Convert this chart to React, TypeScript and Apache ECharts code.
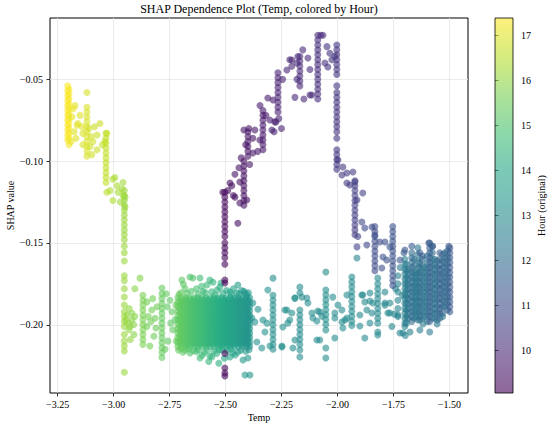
import React, { useEffect, useRef } from "react";
import * as echarts from "echarts";

const TITLE = "SHAP Dependence Plot (Temp, colored by Hour)";
const X_NAME = "Temp";
const Y_NAME = "SHAP value";
const CBAR_NAME = "Hour (original)";
const SERIF = "Liberation Serif";

const X_TICKS = [-3.25, -3.0, -2.75, -2.5, -2.25, -2.0, -1.75, -1.5];
const Y_TICKS = [-0.2, -0.15, -0.1, -0.05];
const HOUR_TICKS = [10, 11, 12, 13, 14, 15, 16, 17];
const X_RANGE = [-3.284, -1.417];
const Y_RANGE = [-0.2417, -0.0125];
const HOUR_RANGE = [9.05, 17.38];

const VIRIDIS = ["#440154", "#482475", "#414487", "#355f8d", "#2a788e", "#21918c", "#22a884", "#44bf70", "#7ad151", "#bddf26", "#fde725"];

// strips: [temp, hour, ...shap values]
const yellowStrips: number[][] = [
  [-3.205, 17.35, -0.054, -0.057, -0.06, -0.063, -0.066, -0.069, -0.072, -0.075, -0.078, -0.081, -0.084, -0.087],
  [-3.199, 17.3, -0.056, -0.059, -0.062, -0.065, -0.068, -0.071, -0.074, -0.077, -0.08, -0.083, -0.086, -0.09],
  [-3.119, 16.9, -0.058, -0.067, -0.07, -0.073, -0.076, -0.079, -0.082, -0.085, -0.088, -0.091, -0.094, -0.097],
  [-3.034, 16.6, -0.083, -0.086, -0.089, -0.092, -0.095, -0.098, -0.101, -0.104, -0.107, -0.11, -0.113],
  [-2.952, 16.1, -0.118, -0.121, -0.124, -0.127, -0.13, -0.133, -0.136, -0.139, -0.142, -0.145, -0.148, -0.152, -0.156, -0.161, -0.17, -0.173, -0.178, -0.183, -0.188, -0.192, -0.195, -0.198, -0.201, -0.206, -0.21, -0.213, -0.216, -0.229],
];

// points: [temp, shap, hour]
const yellowPoints: number[][] = [
  [-3.172, -0.066, 17.0], [-3.15, -0.072, 17.0], [-3.163, -0.078, 17.0], [-3.141, -0.079, 17.0], [-3.137, -0.083, 16.9],
  [-3.168, -0.086, 17.0], [-3.186, -0.073, 17.1], [-3.159, -0.077, 17.0], [-3.18, -0.068, 17.1], [-3.176, -0.082, 17.0],
  [-3.19, -0.088, 17.1], [-3.061, -0.077, 16.7], [-3.03, -0.083, 16.6], [-3.074, -0.084, 16.7], [-3.039, -0.088, 16.6],
  [-3.092, -0.088, 16.8], [-3.137, -0.09, 16.9], [-3.105, -0.091, 16.8], [-3.074, -0.093, 16.7], [-3.097, -0.096, 16.8],
  [-3.11, -0.08, 16.8], [-3.085, -0.079, 16.7], [-3.05, -0.09, 16.6], [-3.1, -0.085, 16.8],
  [-3.003, -0.111, 16.4], [-2.985, -0.115, 16.3], [-2.962, -0.117, 16.2], [-3.016, -0.118, 16.4], [-2.958, -0.121, 16.2],
  [-2.994, -0.11, 16.3], [-2.958, -0.113, 16.2], [-2.98, -0.119, 16.3], [-2.949, -0.122, 16.1], [-3.03, -0.119, 16.5],
  [-3.003, -0.124, 16.4], [-2.949, -0.128, 16.1], [-2.97, -0.125, 16.2],
];

const lowerLeftStrips: number[][] = [
  [-2.869, 15.7, -0.182, -0.185, -0.188, -0.191, -0.194, -0.197, -0.2, -0.203, -0.206, -0.209, -0.212],
  [-2.784, 15.4, -0.1775, -0.181, -0.184, -0.187, -0.19, -0.193, -0.196, -0.199, -0.202, -0.205, -0.208, -0.211, -0.214, -0.217, -0.22],
];

const lowerLeftPoints: number[][] = [
  [-2.94, -0.194, 16.0], [-2.918, -0.197, 15.9], [-2.927, -0.201, 16.0], [-2.918, -0.193, 15.9], [-2.945, -0.197, 16.0],
  [-2.93, -0.19, 16.0], [-2.935, -0.199, 16.0], [-2.905, -0.195, 15.9], [-2.91, -0.2, 15.9], [-2.882, -0.1715, 15.8],
  [-2.905, -0.178, 15.9], [-2.931, -0.203, 16.0], [-2.909, -0.206, 15.9], [-2.925, -0.209, 16.0],
  [-2.829, -0.191, 15.6], [-2.815, -0.196, 15.5], [-2.851, -0.201, 15.6], [-2.82, -0.207, 15.5], [-2.838, -0.213, 15.6],
  [-2.811, -0.202, 15.5], [-2.806, -0.189, 15.5], [-2.851, -0.186, 15.6], [-2.845, -0.195, 15.6], [-2.833, -0.198, 15.6],
  [-2.825, -0.184, 15.6], [-2.748, -0.185, 15.3], [-2.739, -0.192, 15.3], [-2.757, -0.21, 15.3], [-2.735, -0.203, 15.3],
  [-2.726, -0.197, 15.2], [-2.745, -0.199, 15.3], [-2.76, -0.189, 15.3], [-2.77, -0.215, 15.4], [-2.765, -0.181, 15.4],
];

// dense blob: two row sets of shap values, and columns [temp, hour, rowSet]
const blobRows: number[][] = [
  [-0.1835, -0.1862, -0.1889, -0.1916, -0.1943, -0.197, -0.1997, -0.2024, -0.2051, -0.2078, -0.2105, -0.2132],
  [-0.1848, -0.1875, -0.1902, -0.1929, -0.1956, -0.1983, -0.201, -0.2037, -0.2064, -0.2091, -0.2118],
];
const blobColumns: number[][] = [
  [-2.713, 15.4, 0], [-2.704, 15.35, 1], [-2.695, 15.3, 0], [-2.686, 15.25, 1], [-2.677, 15.2, 0],
  [-2.668, 15.1, 1], [-2.659, 15.05, 0], [-2.65, 15.0, 1], [-2.641, 14.95, 0], [-2.632, 14.9, 1],
  [-2.623, 14.8, 0], [-2.614, 14.75, 1], [-2.605, 14.7, 0], [-2.596, 14.65, 1], [-2.587, 14.6, 0],
  [-2.578, 14.5, 1], [-2.569, 14.45, 0], [-2.56, 14.4, 1], [-2.551, 14.35, 0], [-2.542, 14.3, 1],
  [-2.533, 14.2, 0], [-2.524, 14.15, 1], [-2.515, 14.1, 0], [-2.506, 14.05, 1], [-2.497, 14.0, 0],
  [-2.488, 13.9, 1], [-2.479, 13.85, 0], [-2.47, 13.8, 1], [-2.461, 13.75, 0], [-2.452, 13.7, 1],
  [-2.443, 13.6, 0], [-2.434, 13.55, 1], [-2.425, 13.5, 0], [-2.416, 13.45, 1], [-2.407, 13.4, 0],
  [-2.399, 13.35, 1], [-2.392, 13.3, 0],
];
const blobEdgePoints: number[][] = [
  [-2.695, -0.1727, 15.3], [-2.659, -0.1708, 15.05], [-2.614, -0.1714, 14.75], [-2.583, -0.1757, 14.6], [-2.538, -0.1788, 14.3],
  [-2.48, -0.18, 13.9], [-2.449, -0.1806, 13.7], [-2.405, -0.1818, 13.4], [-2.646, -0.1714, 15.0], [-2.57, -0.1727, 14.5],
  [-2.445, -0.1757, 13.7], [-2.413, -0.1806, 13.45], [-2.681, -0.178, 15.2], [-2.525, -0.177, 14.2], [-2.556, -0.174, 14.4],
  [-2.63, -0.178, 14.9], [-2.6, -0.1795, 14.7], [-2.465, -0.178, 13.8], [-2.7, -0.1805, 15.35], [-2.428, -0.179, 13.5],
  [-2.708, -0.1815, 15.4], [-2.672, -0.1808, 15.15], [-2.653, -0.1795, 15.05], [-2.622, -0.1812, 14.8], [-2.59, -0.1805, 14.6],
  [-2.562, -0.1798, 14.45], [-2.547, -0.1818, 14.35], [-2.512, -0.1808, 14.1], [-2.495, -0.179, 14.0], [-2.474, -0.1815, 13.85],
  [-2.438, -0.1812, 13.6], [-2.418, -0.1795, 13.45], [-2.398, -0.1805, 13.35], [-2.688, -0.1752, 15.25], [-2.607, -0.1765, 14.7],
  [-2.52, -0.1745, 14.15],
  [-2.659, -0.2173, 15.05], [-2.614, -0.2203, 14.75], [-2.57, -0.2191, 14.5], [-2.561, -0.2197, 14.45], [-2.48, -0.2197, 13.9],
  [-2.467, -0.2173, 13.8], [-2.422, -0.2215, 13.5], [-2.4, -0.2203, 13.35], [-2.413, -0.2307, 13.45], [-2.391, -0.2307, 13.3],
  [-2.681, -0.2154, 15.2], [-2.516, -0.2154, 14.1], [-2.445, -0.2166, 13.7], [-2.7, -0.2145, 15.35], [-2.63, -0.2165, 14.9],
  [-2.595, -0.217, 14.65], [-2.54, -0.2175, 14.3], [-2.505, -0.2205, 14.05], [-2.72, -0.21, 15.4], [-2.722, -0.188, 15.4],
  [-2.71, -0.2155, 15.4], [-2.69, -0.2168, 15.3], [-2.667, -0.2148, 15.1], [-2.645, -0.2158, 15.0], [-2.622, -0.2152, 14.8],
  [-2.604, -0.2186, 14.7], [-2.583, -0.2155, 14.6], [-2.552, -0.2162, 14.35], [-2.528, -0.2152, 14.2], [-2.493, -0.2158, 14.0],
  [-2.475, -0.2148, 13.85], [-2.457, -0.2185, 13.75], [-2.432, -0.2156, 13.55], [-2.41, -0.2162, 13.45], [-2.395, -0.2152, 13.3],
  [-2.575, -0.2225, 14.5], [-2.53, -0.2235, 14.25],
];

const lowerRightStrips: number[][] = [
  [-2.288, 13.1, -0.1715, -0.182, -0.185, -0.188, -0.191, -0.194, -0.197, -0.2, -0.203, -0.206, -0.209, -0.212, -0.215],
  [-2.168, 13.0, -0.177, -0.1806, -0.191, -0.194, -0.197, -0.2, -0.203, -0.206, -0.209, -0.212, -0.2154, -0.2197],
  [-2.052, 13.1, -0.1678, -0.1788, -0.1818, -0.1848, -0.1878, -0.1908, -0.1938, -0.1968, -0.1998, -0.2032, -0.2142, -0.2203],
  [-1.936, 13.0, -0.1708, -0.1738, -0.1768, -0.1798, -0.1828, -0.1858, -0.1888, -0.1918, -0.1948, -0.1978, -0.2005],
  [-1.82, 12.9, -0.1715, -0.175, -0.178, -0.181, -0.184, -0.187, -0.19, -0.193, -0.196, -0.199, -0.2063],
];

const lowerRightPoints: number[][] = [
  [-2.369, -0.1983, 13.2], [-2.333, -0.1971, 13.2], [-2.324, -0.2044, 13.2], [-2.36, -0.2105, 13.2], [-2.338, -0.2142, 13.2],
  [-2.248, -0.2136, 13.1], [-2.199, -0.2142, 13.1], [-2.204, -0.1928, 13.1], [-2.226, -0.191, 13.1], [-2.213, -0.1971, 13.1],
  [-2.19, -0.1837, 13.1], [-2.159, -0.1831, 13.0], [-2.132, -0.1867, 13.0], [-2.244, -0.2014, 13.1], [-2.11, -0.1959, 13.0],
  [-2.092, -0.2093, 13.0], [-2.079, -0.1922, 13.0], [-2.021, -0.1831, 13.0], [-2.012, -0.1959, 13.0], [-1.998, -0.1879, 13.0],
  [-1.98, -0.1983, 13.0], [-1.958, -0.1959, 13.0], [-2.012, -0.2081, 13.0], [-1.891, -0.1818, 12.9], [-1.878, -0.1861, 12.9],
  [-1.869, -0.191, 12.9], [-1.855, -0.1989, 12.9], [-1.878, -0.2081, 12.9], [-1.9, -0.194, 12.9], [-2.378, -0.1867, 13.2],
  [-2.382, -0.1959, 13.2], [-2.315, -0.199, 13.2], [-2.302, -0.213, 13.2], [-2.311, -0.1788, 13.2], [-2.355, -0.1905, 13.2],
  [-2.137, -0.1837, 13.0], [-2.114, -0.1928, 13.0], [-2.088, -0.1916, 13.0], [-2.092, -0.1977, 13.0], [-2.079, -0.2093, 13.0],
  [-2.248, -0.213, 13.1], [-2.235, -0.191, 13.1], [-2.222, -0.199, 13.1], [-2.19, -0.2093, 13.1], [-2.07, -0.1947, 13.0],
  [-2.012, -0.1928, 13.0], [-1.98, -0.191, 13.0], [-1.976, -0.202, 13.0], [-1.958, -0.1818, 13.0], [-1.967, -0.1971, 13.0],
  [-1.887, -0.1818, 12.9], [-1.9, -0.2008, 12.9], [-1.846, -0.1928, 12.9], [-1.855, -0.1855, 12.9], [-1.775, -0.1928, 12.8],
  [-1.766, -0.1867, 12.8], [-1.721, -0.205, 12.7], [-1.708, -0.205, 12.7], [-1.788, -0.1867, 12.8], [-1.913, -0.1592, 12.8],
  [-1.855, -0.1806, 12.9], [-1.842, -0.1867, 12.9], [-1.788, -0.188, 12.8], [-1.788, -0.18, 12.8], [-1.766, -0.1928, 12.8],
  [-1.73, -0.194, 12.7], [-1.82, -0.2044, 12.9], [-2.19, -0.1837, 13.1],
];

const rightStrips: number[][] = [
  [-1.73, 12.7, -0.17, -0.175, -0.18, -0.185, -0.19, -0.195],
  [-1.699, 12.6, -0.16, -0.163, -0.166, -0.169, -0.172, -0.175, -0.178, -0.181, -0.184, -0.187, -0.19, -0.193, -0.196, -0.199, -0.201],
  [-1.692, 12.5, -0.163, -0.167, -0.171, -0.175, -0.179, -0.183, -0.187, -0.191, -0.195, -0.199],
  [-1.684, 12.3, -0.166, -0.169, -0.172, -0.175, -0.178, -0.181, -0.184, -0.187, -0.19, -0.193, -0.196],
  [-1.668, 11.9, -0.156, -0.159, -0.162, -0.165, -0.168, -0.171, -0.174, -0.177, -0.18, -0.183, -0.186, -0.189, -0.192, -0.195, -0.198],
  [-1.658, 12.0, -0.16, -0.164, -0.168, -0.172, -0.176, -0.18, -0.184, -0.188, -0.192, -0.196],
  [-1.65, 12.4, -0.168, -0.171, -0.174, -0.177, -0.18, -0.183, -0.186, -0.189, -0.192, -0.195],
  [-1.641, 12.3, -0.153, -0.157, -0.161, -0.165, -0.169, -0.173, -0.177, -0.181, -0.185, -0.189, -0.193, -0.197],
  [-1.632, 12.1, -0.162, -0.165, -0.168, -0.171, -0.174, -0.177, -0.18, -0.183, -0.186, -0.189, -0.192, -0.195, -0.197],
  [-1.621, 11.9, -0.16, -0.164, -0.168, -0.172, -0.176, -0.18, -0.184, -0.188, -0.192, -0.196],
  [-1.61, 12.3, -0.165, -0.168, -0.171, -0.174, -0.177, -0.18, -0.183, -0.186, -0.189, -0.192, -0.195],
  [-1.599, 12.2, -0.158, -0.162, -0.166, -0.17, -0.174, -0.178, -0.182, -0.186, -0.19, -0.194, -0.198],
  [-1.588, 11.5, -0.15, -0.153, -0.156, -0.159, -0.162, -0.165, -0.168, -0.171, -0.174, -0.177, -0.18, -0.183, -0.186, -0.189, -0.192, -0.195, -0.198],
  [-1.576, 11.8, -0.152, -0.156, -0.16, -0.164, -0.168, -0.172, -0.176, -0.18, -0.184, -0.188, -0.192, -0.196],
  [-1.565, 12.2, -0.16, -0.163, -0.166, -0.169, -0.172, -0.175, -0.178, -0.181, -0.184, -0.187, -0.19, -0.193, -0.196],
  [-1.554, 12.0, -0.161, -0.165, -0.169, -0.173, -0.177, -0.181, -0.185, -0.189, -0.193, -0.197],
  [-1.543, 11.7, -0.16, -0.163, -0.166, -0.169, -0.172, -0.175, -0.178, -0.181, -0.184, -0.187, -0.19, -0.193, -0.196],
  [-1.531, 11.6, -0.157, -0.161, -0.165, -0.169, -0.173, -0.177, -0.181, -0.185, -0.189, -0.193],
  [-1.52, 12.0, -0.156, -0.159, -0.162, -0.165, -0.168, -0.171, -0.174, -0.177, -0.18, -0.183, -0.186, -0.189],
  [-1.509, 11.8, -0.155, -0.159, -0.163, -0.167, -0.171, -0.175, -0.179, -0.183, -0.187, -0.191],
  [-1.498, 11.4, -0.153, -0.156, -0.159, -0.162, -0.165, -0.168, -0.171, -0.174, -0.177, -0.18, -0.183, -0.186, -0.189, -0.192],
];

const rightPoints: number[][] = [
  [-1.668, -0.152, 11.4], [-1.592, -0.15, 11.3], [-1.503, -0.152, 11.3], [-1.632, -0.156, 11.4], [-1.703, -0.156, 11.5],
  [-1.543, -0.156, 11.4], [-1.676, -0.2044, 12.6], [-1.632, -0.2032, 12.5], [-1.588, -0.2044, 12.5], [-1.746, -0.1935, 12.8],
  [-1.757, -0.201, 12.8], [-1.72, -0.165, 12.4], [-1.71, -0.182, 12.6], [-1.74, -0.178, 12.7], [-1.618, -0.1995, 12.5],
  [-1.555, -0.1995, 12.3], [-1.53, -0.195, 12.2], [-1.575, -0.152, 11.4], [-1.62, -0.158, 11.5], [-1.697, -0.2065, 12.7],
];

const purpleStrips: number[][] = [
  [-2.503, 9.15, -0.119, -0.122, -0.125, -0.128, -0.131, -0.134, -0.137, -0.14, -0.143, -0.146, -0.15, -0.153, -0.156, -0.159, -0.163, -0.1727, -0.1745, -0.2175, -0.2264, -0.2295, -0.2313],
  [-2.418, 9.4, -0.1, -0.103, -0.106, -0.109, -0.112, -0.115, -0.118, -0.121, -0.124, -0.127],
  [-2.4, 9.5, -0.082, -0.085, -0.088, -0.091, -0.094, -0.097],
  [-2.333, 9.6, -0.069, -0.072, -0.075, -0.078, -0.081, -0.084, -0.087, -0.09, -0.093],
  [-2.266, 9.8, -0.046, -0.049, -0.052, -0.055, -0.058, -0.061, -0.064, -0.067, -0.07],
  [-2.168, 10.0, -0.036, -0.039, -0.042, -0.045, -0.048, -0.051, -0.054],
  [-2.088, 10.1, -0.023, -0.026, -0.029, -0.032, -0.035, -0.038, -0.041, -0.044, -0.047, -0.05, -0.053, -0.056, -0.059],
  [-2.003, 10.3, -0.029, -0.032, -0.035, -0.038, -0.041, -0.044, -0.047, -0.054, -0.058, -0.061, -0.064, -0.067, -0.07, -0.073, -0.076, -0.079, -0.082, -0.086, -0.093, -0.096, -0.099, -0.102, -0.105],
  [-1.922, 10.6, -0.112, -0.115, -0.118, -0.121, -0.124, -0.127, -0.13, -0.133, -0.136, -0.139, -0.142, -0.145],
  [-1.833, 11.0, -0.14, -0.143, -0.146, -0.149, -0.152, -0.155, -0.158, -0.161, -0.164, -0.167],
  [-1.753, 11.2, -0.14, -0.143, -0.146, -0.149, -0.152, -0.155, -0.158, -0.161, -0.164, -0.167, -0.17, -0.173, -0.176],
];

const purplePoints: number[][] = [
  [-2.512, -0.119, 9.3], [-2.48, -0.1134, 9.3], [-2.436, -0.1127, 9.4], [-2.458, -0.122, 9.3], [-2.405, -0.1237, 9.4],
  [-2.436, -0.1256, 9.4], [-2.445, -0.138, 9.3], [-2.472, -0.115, 9.3], [-2.458, -0.108, 9.4], [-2.44, -0.104, 9.4],
  [-2.465, -0.121, 9.3], [-2.49, -0.118, 9.3], [-2.43, -0.098, 9.4], [-2.392, -0.102, 9.5], [-2.41, -0.09, 9.5],
  [-2.418, -0.081, 9.5], [-2.396, -0.08, 9.5], [-2.369, -0.081, 9.6], [-2.378, -0.095, 9.5], [-2.356, -0.094, 9.6],
  [-2.347, -0.0871, 9.6], [-2.378, -0.086, 9.5], [-2.311, -0.0614, 9.7], [-2.288, -0.0626, 9.7], [-2.302, -0.0748, 9.7],
  [-2.293, -0.081, 9.7], [-2.28, -0.076, 9.7], [-2.32, -0.072, 9.6], [-2.346, -0.066, 9.6],
  [-2.226, -0.0443, 9.9], [-2.204, -0.0382, 9.9], [-2.181, -0.04, 10.0], [-2.155, -0.032, 10.0], [-2.123, -0.044, 10.0],
  [-2.114, -0.0596, 10.1], [-2.088, -0.062, 10.1], [-2.065, -0.023, 10.1], [-2.056, -0.04, 10.2], [-2.034, -0.034, 10.2],
  [-2.043, -0.0425, 10.2], [-2.132, -0.037, 10.0], [-2.213, -0.038, 9.9], [-2.181, -0.05, 10.0], [-2.123, -0.0596, 10.0],
  [-2.025, -0.038, 10.2], [-2.012, -0.036, 10.3], [-2.047, -0.03, 10.2], [-2.177, -0.036, 10.0], [-2.204, -0.042, 9.9],
  [-2.075, -0.023, 10.1], [-2.25, -0.08, 9.8], [-2.275, -0.076, 9.8], [-2.283, -0.082, 9.8], [-2.262, -0.074, 9.8],
  [-2.245, -0.05, 9.8], [-2.19, -0.061, 10.0], [-2.15, -0.062, 10.0],
  [-1.998, -0.0993, 10.4], [-1.976, -0.1036, 10.4], [-1.958, -0.1072, 10.5], [-1.931, -0.1066, 10.5], [-1.98, -0.1085, 10.4],
  [-1.958, -0.1134, 10.5], [-1.945, -0.1146, 10.5], [-1.887, -0.1195, 10.6], [-1.922, -0.1127, 10.6], [-1.913, -0.1237, 10.6],
  [-1.891, -0.1372, 10.8], [-1.878, -0.1408, 10.8], [-1.846, -0.1402, 10.9], [-1.909, -0.146, 10.7], [-1.913, -0.1524, 10.7],
  [-1.869, -0.1512, 10.8], [-1.833, -0.1451, 11.0], [-1.811, -0.1494, 11.0], [-1.788, -0.1494, 11.1], [-1.78, -0.1604, 11.1],
  [-1.797, -0.1586, 11.1], [-1.802, -0.1653, 11.1], [-1.766, -0.1524, 11.2], [-1.721, -0.1604, 11.3], [-1.699, -0.1543, 11.3],
];

function buildData(): number[][] {
  const out: number[][] = [];
  const addStrips = (strips: number[][]) =>
    strips.forEach(([t, h, ...ys]) => ys.forEach((s) => out.push([t, s, h])));
  const addPoints = (pts: number[][]) => pts.forEach(([t, s, h]) => out.push([t, s, h]));
  blobColumns.forEach(([t, h, r]) => blobRows[r].forEach((s) => out.push([t, s, h])));
  addPoints(blobEdgePoints);
  addStrips(lowerLeftStrips);
  addPoints(lowerLeftPoints);
  addStrips(lowerRightStrips);
  addPoints(lowerRightPoints);
  addStrips(yellowStrips);
  addPoints(yellowPoints);
  addStrips(rightStrips);
  addPoints(rightPoints);
  addStrips(purpleStrips);
  addPoints(purplePoints);
  return out;
}

const fmt = (digits: number) => (v: number) =>
  (v < 0 ? "\u2212" : "") + Math.abs(v).toFixed(digits);

export default function App() {
  const ref = useRef<HTMLDivElement>(null);
  useEffect(() => {
    if (!ref.current) return;
    const chart = echarts.init(ref.current, null, { renderer: "svg" });
    const L = 50, T = 18, W = 418, H = 375;
    const CBX = 495, CBW = 18;
    const tickStyle = { color: "#000", width: 0.8 };
    const labelStyle = { fontFamily: SERIF, fontSize: 10, color: "#000" };
    chart.setOption({
      animation: false,
      backgroundColor: "#ffffff",
      textStyle: { fontFamily: SERIF },
      grid: [
        { left: L, top: T, width: W, height: H, show: true, borderColor: "#000", borderWidth: 1, backgroundColor: "transparent" },
        { left: CBX, top: T, width: CBW, height: H, show: false },
      ],
      xAxis: [
        {
          gridIndex: 0, type: "value", min: X_RANGE[0], max: X_RANGE[1],
          axisLine: { show: false },
          axisTick: { show: true, inside: false, length: 3.5, lineStyle: tickStyle, customValues: X_TICKS },
          axisLabel: { ...labelStyle, margin: 6, customValues: X_TICKS, formatter: fmt(2) },
          splitLine: { show: true, lineStyle: { color: "#e6e6e6", width: 0.8 } },
        },
        { gridIndex: 1, type: "value", min: 0, max: 1, show: false },
      ],
      yAxis: [
        {
          gridIndex: 0, type: "value", min: Y_RANGE[0], max: Y_RANGE[1],
          axisLine: { show: false },
          axisTick: { show: true, inside: false, length: 3.5, lineStyle: tickStyle, customValues: Y_TICKS },
          axisLabel: { ...labelStyle, margin: 7, customValues: Y_TICKS, formatter: fmt(2) },
          splitLine: { show: true, lineStyle: { color: "#e6e6e6", width: 0.8 } },
        },
        {
          gridIndex: 1, type: "value", min: HOUR_RANGE[0], max: HOUR_RANGE[1], position: "right",
          axisLine: { show: false },
          axisTick: { show: true, inside: false, length: 3.5, lineStyle: tickStyle, customValues: HOUR_TICKS },
          axisLabel: { ...labelStyle, margin: 8, customValues: HOUR_TICKS, formatter: (v: number) => String(Math.round(v)) },
          splitLine: { show: false },
        },
      ],
      visualMap: {
        show: false, type: "continuous", min: HOUR_RANGE[0], max: HOUR_RANGE[1],
        dimension: 2, seriesIndex: 0, inRange: { color: VIRIDIS },
      },
      series: [
        {
          type: "scatter", xAxisIndex: 0, yAxisIndex: 0, data: buildData(),
          symbol: "circle", symbolSize: 7, itemStyle: { opacity: 0.6 }, silent: true,
        },
      ],
      graphic: [
        {
          type: "rect", z: 1, silent: true,
          shape: { x: CBX, y: T, width: CBW, height: H },
          style: {
            fill: {
              type: "linear", x: 0, y: 1, x2: 0, y2: 0,
              colorStops: VIRIDIS.map((c, i) => ({ offset: i / (VIRIDIS.length - 1), color: c })),
            },
            opacity: 0.6,
          },
        },
        {
          type: "rect", z: 2, silent: true,
          shape: { x: CBX, y: T, width: CBW, height: H },
          style: { fill: "none", stroke: "#000", lineWidth: 0.8 },
        },
        {
          type: "text", x: L + W / 2, y: 9, silent: true,
          style: { text: TITLE, font: `12px "${SERIF}"`, fill: "#000", textAlign: "center", textVerticalAlign: "middle" },
        },
        {
          type: "text", x: L + W / 2, y: 417, silent: true,
          style: { text: X_NAME, font: `10px "${SERIF}"`, fill: "#000", textAlign: "center", textVerticalAlign: "middle" },
        },
        {
          type: "text", x: 10, y: T + H / 2, rotation: Math.PI / 2, silent: true,
          style: { text: Y_NAME, font: `10px "${SERIF}"`, fill: "#000", textAlign: "center", textVerticalAlign: "middle" },
        },
        {
          type: "text", x: 541, y: T + H / 2, rotation: Math.PI / 2, silent: true,
          style: { text: CBAR_NAME, font: `10px "${SERIF}"`, fill: "#000", textAlign: "center", textVerticalAlign: "middle" },
        },
      ],
    });
    return () => chart.dispose();
  }, []);
  return (
    <div
      ref={ref}
      style={{ position: "fixed", left: 0, top: 0, width: 550, height: 426, background: "#fff" }}
    />
  );
}
